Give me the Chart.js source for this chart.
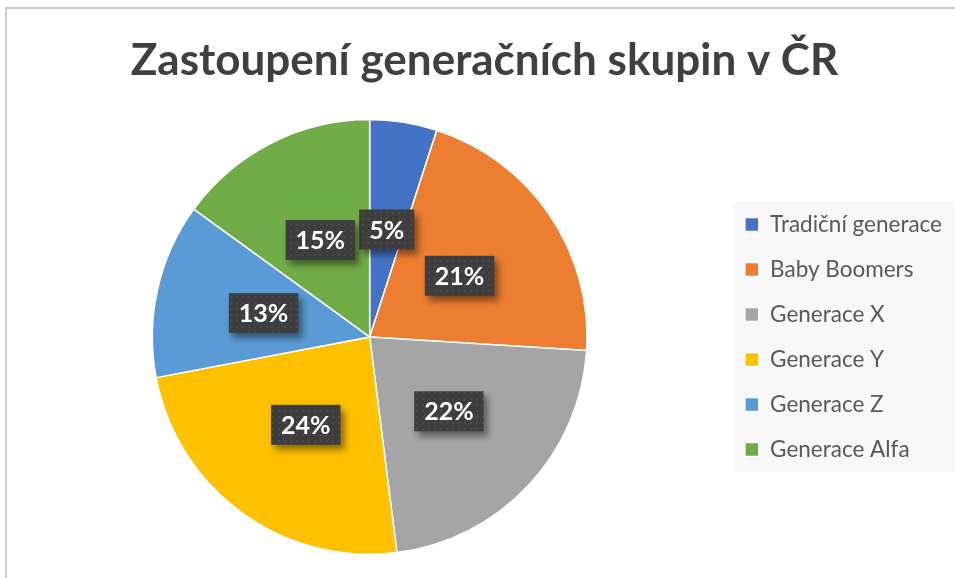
<!DOCTYPE html>
<html>
<head>
<meta charset="utf-8">
<script src="https://cdn.jsdelivr.net/npm/chart.js@4"></script>
<style>
html, body { margin:0; background:#fff; }
#frame { position:absolute; left:5px; top:7px; right:0; bottom:0; border-top:2px solid #cfcfcf; border-left:2px solid #cfcfcf; }
#wrap { position:absolute; left:0; top:0; width:955px; height:578px; }
</style>
</head>
<body>
<div id="frame"></div>
<div id="wrap"><canvas id="c" width="955" height="578"></canvas></div>
<script>
const chartTitle = 'Zastoupení generačních skupin v ČR';
const generations = ['Tradiční generace', 'Baby Boomers', 'Generace X', 'Generace Y', 'Generace Z', 'Generace Alfa'];
const shares = [5, 21, 22, 24, 13, 15];
const sliceColors = ['#4472C4', '#ED7D31', '#A5A5A5', '#FFC000', '#5B9BD5', '#70AD47'];

const FONT = 'Lato';

// dotted dark texture for the value boxes
const dots = (() => {
	const t = document.createElement('canvas');
	t.width = 6; t.height = 6;
	const g = t.getContext('2d');
	g.fillStyle = '#3e3e3e'; g.fillRect(0, 0, 6, 6);
	g.fillStyle = '#4a4a4a'; g.fillRect(2, 2, 2, 2);
	return g.createPattern(t, 'repeat');
})();

const legendBg = {
	id: 'legendBg',
	beforeDraw(chart) {
		const lg = chart.legend, hb = lg.legendHitBoxes;
		if (!hb || !hb.length) return;
		const p = lg.options.labels.padding / 2;
		const top = hb[0].top - p;
		const last = hb[hb.length - 1];
		const bottom = last.top + last.height + p;
		const ctx = chart.ctx;
		ctx.save();
		ctx.fillStyle = '#f8f8f8';
		ctx.fillRect(lg.left + p, top, chart.width - lg.left - p, bottom - top);
		ctx.restore();
	}
};

const valueBoxes = {
	id: 'valueBoxes',
	afterDatasetsDraw(chart) {
		const ctx = chart.ctx;
		const meta = chart.getDatasetMeta(0);
		ctx.save();
		ctx.font = 'bold 25px ' + FONT;
		ctx.textAlign = 'center';
		ctx.textBaseline = 'middle';
		meta.data.forEach((arc, i) => {
			const {x, y} = arc.tooltipPosition();
			const t = shares[i] + '%';
			const w = ctx.measureText(t).width + 20, h = 40;
			ctx.shadowColor = 'rgba(0,0,0,0.45)';
			ctx.shadowBlur = 7;
			ctx.shadowOffsetX = 4;
			ctx.shadowOffsetY = 5;
			ctx.fillStyle = dots;
			ctx.fillRect(x - w / 2, y - h / 2, w, h);
			ctx.shadowColor = 'transparent';
			ctx.fillStyle = '#fff';
			ctx.fillText(t, x, y + 1);
		});
		ctx.restore();
	}
};

new Chart(document.getElementById('c'), {
	type: 'pie',
	data: {
		labels: generations,
		datasets: [{
			data: shares,
			backgroundColor: sliceColors,
			borderColor: '#fff',
			borderWidth: 1.5
		}]
	},
	options: {
		responsive: false,
		animation: false,
		layout: { padding: { left: 17, right: 3, top: 0, bottom: 23 } },
		plugins: {
			title: {
				display: true,
				text: chartTitle,
				color: '#404040',
				font: { family: FONT, size: 44, weight: 'bold' },
				padding: { top: 34, bottom: 32 }
			},
			legend: {
				position: 'right',
				fullSize: false,
				labels: {
					boxWidth: 14,
					boxHeight: 14,
					padding: 22.5,
					color: '#595959',
					font: { family: FONT, size: 22.5 }
				}
			},
			tooltip: { enabled: false }
		}
	},
	plugins: [legendBg, valueBoxes]
});
</script>
</body>
</html>
